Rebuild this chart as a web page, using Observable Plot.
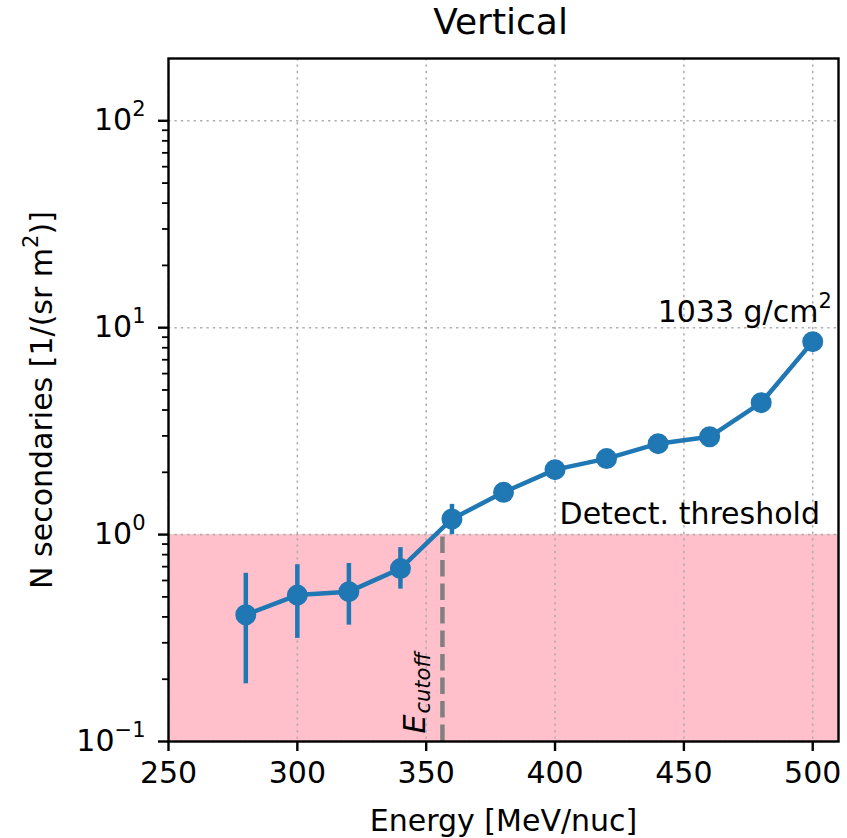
<!DOCTYPE html>
<html>
<head>
<meta charset="utf-8">
<script src="https://cdn.jsdelivr.net/npm/d3@7"></script>
<script src="https://cdn.jsdelivr.net/npm/@observablehq/plot@0.6"></script>
<style>
  html, body { margin: 0; padding: 0; background: white; }
</style>
</head>
<body>
<div id="chart"></div>
<script>
// ---- data ----
const energy = [280, 300, 320, 340, 360, 380, 400, 420, 440, 460, 480, 500];
const nSecondaries = [0.41, 0.51, 0.53, 0.685, 1.19, 1.6, 2.06, 2.33, 2.75, 2.97, 4.34, 8.56];
const errLow  = [0.19, 0.315, 0.365, 0.545, 1.0, null, null, null, null, null, null, null];
const errHigh = [0.65, 0.715, 0.725, 0.865, 1.4, null, null, null, null, null, null, null];

const xTicks = [250, 300, 350, 400, 450, 500];
const yTicks = [0.1, 1, 10, 100];
const yTickLabels = ["10\u207B\u00B9", "10\u2070", "10\u00B9", "10\u00B2"];
const yMinorTicks = [0.2,0.3,0.4,0.5,0.6,0.7,0.8,0.9, 2,3,4,5,6,7,8,9, 20,30,40,50,60,70,80,90];

const xDomain = [250, 510];
const yDomain = [0.1, 200];
const threshold = [1];
const eCutoff = [356.3];

const titleText = "Vertical";
const xLabel = "Energy [MeV/nuc]";
const yLabel = "N secondaries [1/(sr m\u00B2)]";
const depthLabel = ["1033 g/cm\u00B2"];
const thresholdLabel = ["Detect. threshold"];

const points = energy.map((e, i) => ({e, n: nSecondaries[i], lo: errLow[i], hi: errHigh[i]}));
const errPoints = points.filter(d => d.lo != null);

const blue = "#1f77b4";
const gridStyle = {stroke: "#b0b0b0", strokeOpacity: 1, strokeWidth: 1.6, strokeDasharray: "2.4,4"};

const chart = Plot.plot({
  width: 847,
  height: 838,
  marginTop: 58,
  marginBottom: 97,
  marginLeft: 168,
  marginRight: 9,
  style: {fontFamily: "DejaVu Sans", fontSize: "30px", color: "black", background: "white", overflow: "visible"},
  x: {domain: xDomain},
  y: {type: "log", domain: yDomain},
  marks: [
    Plot.rect(threshold, {x1: xDomain[0], x2: xDomain[1], y1: yDomain[0], y2: d => d, fill: "pink"}),
    Plot.gridX(xTicks, gridStyle),
    Plot.gridY(yTicks, gridStyle),
    Plot.ruleX(eCutoff, {x: d => d, y1: yDomain[0], y2: threshold[0], stroke: "gray", strokeWidth: 4.5, strokeDasharray: "16.5,7"}),
    Plot.text(eCutoff, {x: d => d, y: yDomain[0], text: () => "E", rotate: -90, textAnchor: "start", lineAnchor: "bottom",
      dx: -17, dy: -8, fontStyle: "italic", fontSize: 30, fill: "black"}),
    Plot.text(eCutoff, {x: d => d, y: yDomain[0], text: () => "cutoff", rotate: -90, textAnchor: "start", lineAnchor: "bottom",
      dx: -12, dy: -28, fontStyle: "italic", fontSize: 21, fill: "black"}),
    Plot.ruleX(errPoints, {x: "e", y1: "lo", y2: "hi", stroke: blue, strokeWidth: 4.5}),
    Plot.line(points, {x: "e", y: "n", stroke: blue, strokeWidth: 4.5}),
    Plot.dot(points, {x: "e", y: "n", r: 9, fill: blue, stroke: blue, strokeWidth: 3}),
    Plot.text(depthLabel, {x: 507.4, y: 10.6, text: d => d, textAnchor: "end", lineAnchor: "bottom", fill: "black"}),
    Plot.text(thresholdLabel, {x: 502.8, y: 1.13, text: d => d, textAnchor: "end", lineAnchor: "bottom", fill: "black"}),
    Plot.frame({stroke: "black", strokeWidth: 2.4}),
    Plot.axisX(xTicks, {tickSize: 10, tickPadding: 10, strokeWidth: 2.4, label: null, fill: "black"}),
    Plot.axisY(yTicks, {tickSize: 10, tickPadding: 13, strokeWidth: 2.4, label: null, fill: "black",
      tickFormat: (d) => yTickLabels[yTicks.indexOf(d)]}),
    Plot.axisY(yMinorTicks, {tickSize: 6, strokeWidth: 1.8, label: null, tickFormat: () => ""}),
    Plot.text([titleText], {frameAnchor: "top", text: d => d, dx: -3, dy: -25, lineAnchor: "bottom", fontSize: 36, fill: "black"}),
    Plot.text([xLabel], {frameAnchor: "bottom", text: d => d, dy: 89, lineAnchor: "bottom", fill: "black"}),
    Plot.text([yLabel], {frameAnchor: "left", text: d => d, dx: -117, rotate: -90, textAnchor: "middle", lineAnchor: "bottom", fill: "black"})
  ]
});

// render unicode superscripts as raised, smaller tspans (like mathtext)
const supMap = {"\u207B": "\u2212", "\u2070": "0", "\u00B9": "1", "\u00B2": "2"};
const NS = "http://www.w3.org/2000/svg";
chart.querySelectorAll("text").forEach(t => {
  const s = t.textContent;
  const m = s.match(/^([^\u207B\u2070\u00B9\u00B2]*)([\u207B\u2070\u00B9\u00B2]+)(.*)$/);
  if (!m) return;
  while (t.firstChild) t.removeChild(t.firstChild);
  const a = document.createElementNS(NS, "tspan"); a.textContent = m[1]; t.appendChild(a);
  const b = document.createElementNS(NS, "tspan");
  b.textContent = [...m[2]].map(c => supMap[c]).join("");
  b.setAttribute("font-size", "21px"); b.setAttribute("dy", "-14"); t.appendChild(b);
  if (m[3]) {
    const c = document.createElementNS(NS, "tspan"); c.textContent = m[3]; c.setAttribute("dy", "14"); t.appendChild(c);
  }
});

document.getElementById("chart").appendChild(chart);
</script>
</body>
</html>
